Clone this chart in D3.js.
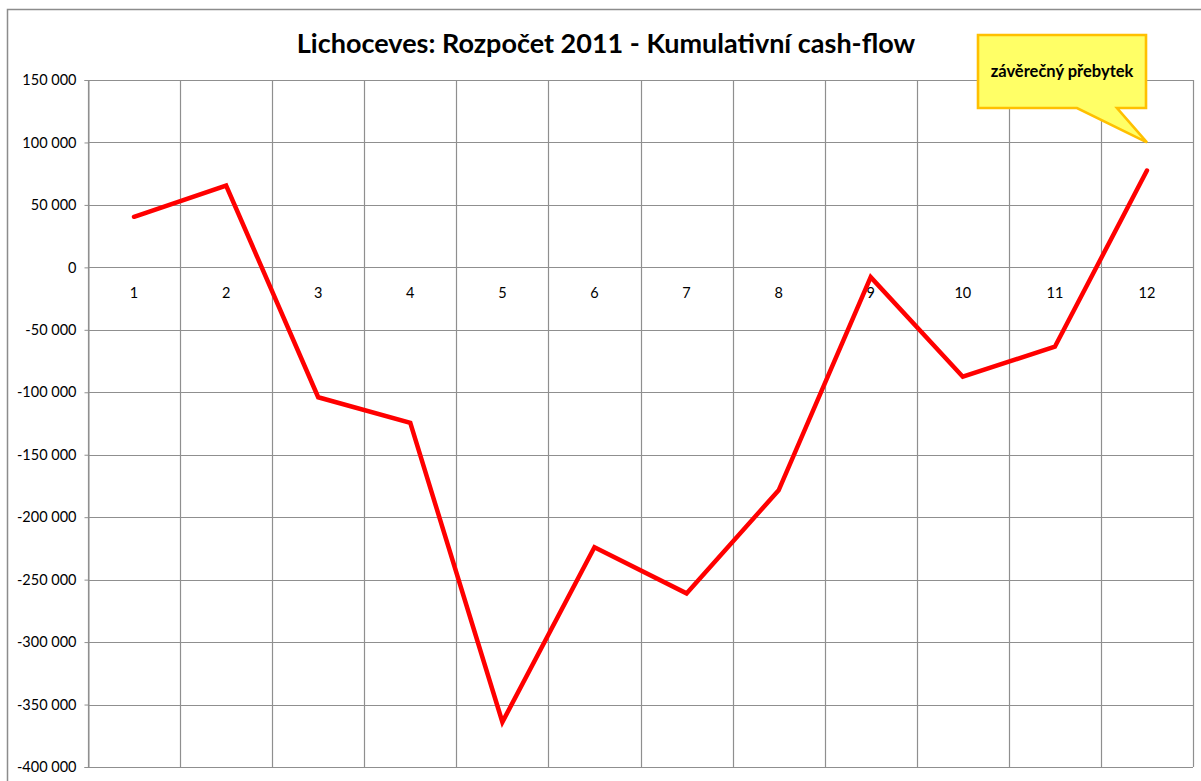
<!DOCTYPE html>
<html>
<head>
<meta charset="utf-8">
<script src="https://cdn.jsdelivr.net/npm/d3@7"></script>
<style>
  body { margin: 0; background: #fff; }
  text { font-family: Lato, "Open Sans", sans-serif; }
</style>
</head>
<body>
<div id="root"></div>
<script>
// Data
const months = ["1", "2", "3", "4", "5", "6", "7", "8", "9", "10", "11", "12"];
const cumulative = [40500, 65500, -104000, -124500, -364000, -224000, -261000, -178500, -7800, -87500, -63500, 77500];
const yTicks = [150000, 100000, 50000, 0, -50000, -100000, -150000, -200000, -250000, -300000, -350000, -400000];
const titleText = "Lichoceves: Rozpočet 2011 - Kumulativní cash-flow";
const calloutText = "závěrečný přebytek";

const w = 1201;
const h = 781;
const margin = { top: 80, right: 8, bottom: 14, left: 88 };

const svg = d3.select("#root")
  .append("svg")
  .attr("width", w)
  .attr("height", h);

// outer chart border (runs off right/bottom edge)
svg.append("rect")
  .attr("x", 7.5)
  .attr("y", 9.5)
  .attr("width", 1210)
  .attr("height", 800)
  .attr("fill", "#fff")
  .attr("stroke", "#8c8c8c")
  .attr("stroke-width", 1.5);

const x = d3.scaleBand()
  .domain(months)
  .range([margin.left, w - margin.right]);

const y = d3.scaleLinear()
  .domain([-400000, 150000])
  .range([h - margin.bottom, margin.top]);

const fmt = v => d3.format(",")(v).replace(/,/g, " ").replace("−", "-");

// horizontal gridlines
svg.append("g")
  .selectAll("line")
  .data(yTicks)
  .enter()
  .append("line")
  .attr("x1", margin.left)
  .attr("x2", w - margin.right)
  .attr("y1", d => Math.round(y(d)) + 0.5)
  .attr("y2", d => Math.round(y(d)) + 0.5)
  .attr("stroke", "#8f8f8f")
  .attr("stroke-width", 1.2);

// vertical gridlines at category boundaries
const bounds = months.map(m => x(m)).concat([x.range()[1]]);
svg.append("g")
  .selectAll("line")
  .data(bounds)
  .enter()
  .append("line")
  .attr("x1", d => Math.round(d) + 0.5)
  .attr("x2", d => Math.round(d) + 0.5)
  .attr("y1", margin.top)
  .attr("y2", h - margin.bottom)
  .attr("stroke", "#8f8f8f")
  .attr("stroke-width", 1.2);

// y axis labels
const yAxis = d3.axisLeft(y)
  .tickValues(yTicks)
  .tickFormat(fmt)
  .tickSize(4);

const yG = svg.append("g")
  .attr("transform", `translate(${margin.left + 0.5},0)`)
  .call(yAxis);
yG.select(".domain").attr("stroke", "#8f8f8f");
yG.selectAll(".tick line").attr("stroke", "#8f8f8f");
yG.selectAll("text")
  .attr("x", -12)
  .style("font-family", "Lato, sans-serif")
  .style("font-size", "14.5px")
  .attr("fill", "#000");

// x axis labels below zero line
const xAxis = d3.axisBottom(x).tickSize(0);
const xG = svg.append("g")
  .attr("transform", `translate(0,${y(0)})`)
  .call(xAxis);
xG.select(".domain").remove();
xG.selectAll("text")
  .attr("y", 26)
  .attr("dy", "0.32em")
  .style("font-family", "Lato, sans-serif")
  .style("font-size", "14.5px")
  .attr("fill", "#000");

// the line
const line = d3.line()
  .x((d, i) => x(months[i]) + x.bandwidth() / 2)
  .y(d => y(d));

svg.append("path")
  .datum(cumulative)
  .attr("d", line)
  .attr("fill", "none")
  .attr("stroke", "#ff0000")
  .attr("stroke-width", 4.5)
  .attr("stroke-linejoin", "miter")
  .attr("stroke-linecap", "round");

// title
svg.append("text")
  .attr("x", 606)
  .attr("y", 53)
  .attr("text-anchor", "middle")
  .style("font-size", "27px")
  .style("font-weight", "bold")
  .text(titleText);

// callout bubble pointing at the last point
const tipX = x("12") + x.bandwidth() / 2;
const tipY = y(100000);
const bx0 = 978, bx1 = 1146, by0 = 35, by1 = 108;
svg.append("path")
  .attr("d", `M${bx0},${by0} L${bx1},${by0} L${bx1},${by1} L1117,${by1} L${tipX},${tipY} L1077,${by1} L${bx0},${by1} Z`)
  .attr("fill", "#ffff66")
  .attr("stroke", "#ffc000")
  .attr("stroke-width", 2.6)
  .attr("stroke-linejoin", "miter");

svg.append("text")
  .attr("x", (bx0 + bx1) / 2)
  .attr("y", 77)
  .attr("text-anchor", "middle")
  .style("font-size", "16.5px")
  .style("font-weight", "bold")
  .text(calloutText);
</script>
</body>
</html>
